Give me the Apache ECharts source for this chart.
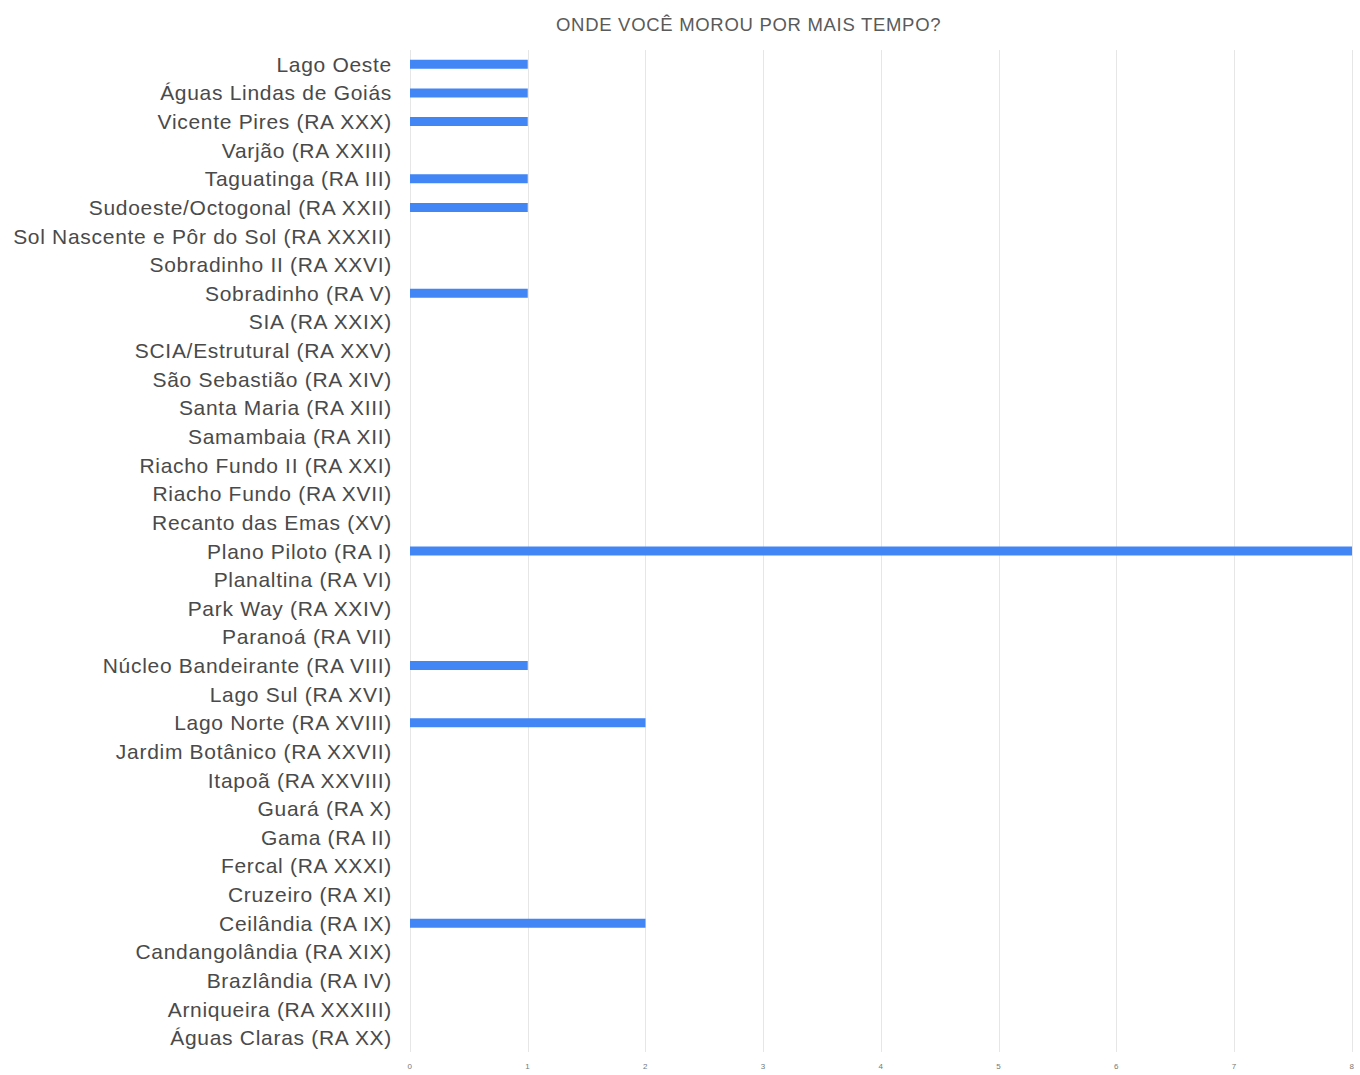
<!DOCTYPE html>
<html>
<head>
<meta charset="utf-8">
<script src="https://cdn.jsdelivr.net/npm/echarts@6/dist/echarts.min.js"></script>
<style>
  html, body { margin: 0; padding: 0; background: #fff; }
  #chart { width: 1360px; height: 1075px; }
  /* the source renders its labels a little wider than Arial */
  #chart svg text { letter-spacing: 0.7px; }
</style>
</head>
<body>
<div id="chart"></div>
<script>
var categories = [
  'Lago Oeste', 'Águas Lindas de Goiás', 'Vicente Pires (RA XXX)', 'Varjão (RA XXIII)',
  'Taguatinga (RA III)', 'Sudoeste/Octogonal (RA XXII)', 'Sol Nascente e Pôr do Sol (RA XXXII)',
  'Sobradinho II (RA XXVI)', 'Sobradinho (RA V)', 'SIA (RA XXIX)', 'SCIA/Estrutural (RA XXV)',
  'São Sebastião (RA XIV)', 'Santa Maria (RA XIII)', 'Samambaia (RA XII)', 'Riacho Fundo II (RA XXI)',
  'Riacho Fundo (RA XVII)', 'Recanto das Emas (XV)', 'Plano Piloto (RA I)', 'Planaltina (RA VI)',
  'Park Way (RA XXIV)', 'Paranoá (RA VII)', 'Núcleo Bandeirante (RA VIII)', 'Lago Sul (RA XVI)',
  'Lago Norte (RA XVIII)', 'Jardim Botânico (RA XXVII)', 'Itapoã (RA XXVIII)', 'Guará (RA X)',
  'Gama (RA II)', 'Fercal (RA XXXI)', 'Cruzeiro (RA XI)', 'Ceilândia (RA IX)',
  'Candangolândia (RA XIX)', 'Brazlândia (RA IV)', 'Arniqueira (RA XXXIII)', 'Águas Claras (RA XX)'
];

var counts = [
  1, 1, 1, 0,
  1, 1, 0,
  0, 1, 0, 0,
  0, 0, 0, 0,
  0, 0, 8, 0,
  0, 0, 1, 0,
  2, 0, 0, 0,
  0, 0, 0, 2,
  0, 0, 0, 0
];

var chart = echarts.init(document.getElementById('chart'), null, { renderer: 'svg' });
var option = {
  backgroundColor: '#fff',
  animation: false,
  title: {
    text: 'ONDE VOCÊ MOROU POR MAIS TEMPO?',
    left: 551,
    top: 10,
    textStyle: { fontFamily: 'Liberation Sans', fontSize: 18.5, fontWeight: 'normal', color: '#5a5a5a' }
  },
  grid: { left: 410, right: 8, top: 50, bottom: 23, containLabel: false },
  xAxis: {
    type: 'value',
    min: 0,
    max: 8,
    interval: 1,
    axisLine: { show: false },
    axisTick: { show: false },
    splitLine: { lineStyle: { color: '#e6e6e6', width: 1 } },
    axisLabel: { fontFamily: 'Liberation Sans', fontSize: 8, color: '#777', margin: 10 }
  },
  yAxis: {
    type: 'category',
    data: categories,
    inverse: true,
    axisLine: { show: false },
    axisTick: { show: false },
    axisLabel: { fontFamily: 'Liberation Sans', fontSize: 21, color: '#4a4a4a', margin: 18, interval: 0 }
  },
  series: [{
    type: 'bar',
    data: counts,
    barWidth: 9,
    itemStyle: { color: '#4285f4' }
  }]
};
chart.setOption(option);
</script>
</body>
</html>
